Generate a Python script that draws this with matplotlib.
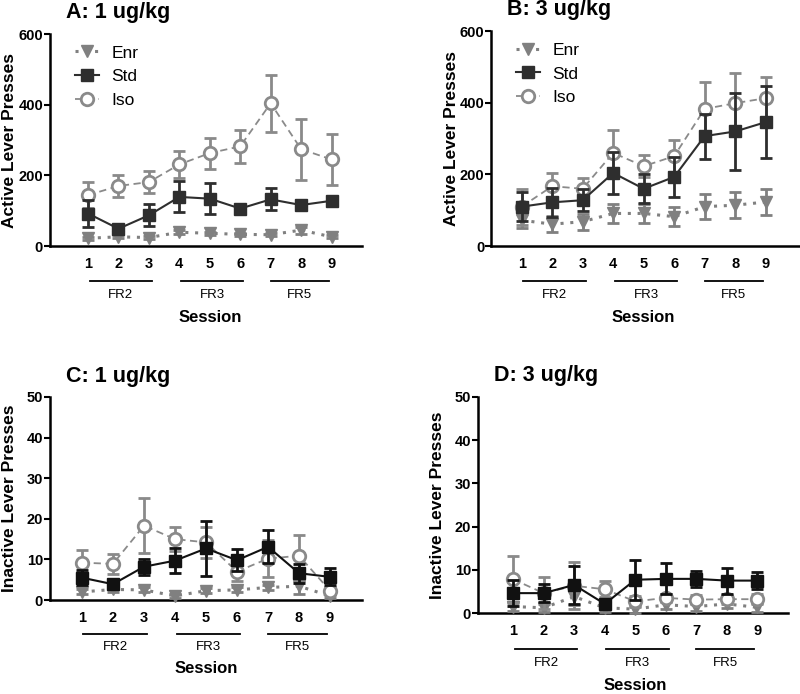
import matplotlib
matplotlib.use("Agg")
from matplotlib import pyplot as plt
import matplotlib.transforms as mtransforms

# Data
sessions = [1, 2, 3, 4, 5, 6, 7, 8, 9]
session_labels = ['1', '2', '3', '4', '5', '6', '7', '8', '9']
schedules = ['FR2', 'FR3', 'FR5']
schedule_spans = [(1.05, 3.1), (4.05, 6.1), (7.0, 8.9)]

# A: active lever, 1 ug/kg
a_enr = [22, 26, 24, 39, 36, 33, 32, 45, 26]
a_enr_sem = [4, 4, 4, 5, 4, 4, 4, 10, 4]
a_std = [92, 49, 87, 139, 134, 106, 132, 116, 128]
a_std_sem = [38, 6, 31, 44, 43, 6, 31, 12, 6]
a_iso = [144, 170, 181, 231, 263, 282, 404, 274, 245]
a_iso_sem = [37, 30, 31, 38, 44, 47, 81, 86, 73]

# B: active lever, 3 ug/kg
b_enr = [72, 61, 68, 91, 91, 82, 110, 114, 123]
b_enr_sem = [22, 22, 22, 27, 27, 27, 35, 36, 36]
b_std = [110, 122, 128, 204, 160, 193, 307, 320, 346]
b_std_sem = [40, 40, 30, 60, 40, 56, 63, 108, 100]
b_iso = [110, 167, 160, 260, 223, 251, 383, 399, 413]
b_iso_sem = [50, 37, 30, 65, 30, 44, 76, 84, 59]

# C: inactive lever, 1 ug/kg
c_enr = [2.0, 2.6, 2.5, 1.0, 2.3, 2.5, 3.1, 3.4, 1.0]
c_enr_sem = [0.6, 0.6, 0.6, 0.4, 0.6, 0.6, 0.6, 2.0, 0.4]
c_std = [5.5, 3.9, 8.2, 9.7, 12.7, 9.8, 13.1, 6.6, 5.7]
c_std_sem = [1.9, 1.0, 2.0, 3.1, 6.7, 2.7, 4.1, 2.3, 2.1]
c_iso = [9.2, 8.9, 18.3, 15.0, 14.2, 7.0, 10.2, 10.9, 2.3]
c_iso_sem = [3.0, 2.5, 6.8, 3.0, 3.8, 2.2, 4.5, 5.0, 1.0]

# D: inactive lever, 3 ug/kg
d_enr = [1.5, 1.2, 3.8, 1.2, 0.9, 1.9, 1.5, 2.1, 1.3]
d_enr_sem = [1.0, 1.0, 2.0, 1.0, 0.8, 1.0, 1.0, 1.0, 1.0]
d_std = [4.6, 4.6, 6.5, 2.1, 7.7, 7.9, 7.9, 7.5, 7.5]
d_std_sem = [3.0, 2.0, 4.4, 1.0, 4.6, 3.6, 1.9, 3.0, 1.9]
d_iso = [7.8, 4.6, 6.3, 5.5, 2.7, 3.5, 3.1, 3.2, 3.2]
d_iso_sem = [5.4, 3.7, 5.4, 1.8, 1.2, 1.0, 1.0, 1.0, 1.2]

plt.rcParams["font.family"] = ['Liberation Sans', 'DejaVu Sans']
plt.rcParams["font.size"] = 10

fig = plt.figure(figsize=(8, 6.94), dpi=100)

panels = [
    dict(rect=[0.0625, 0.6455, 0.39, 0.3055], title='A: 1 ug/kg', ylabel='Active Lever Presses',
         enr=(a_enr, a_enr_sem), std=(a_std, a_std_sem), iso=(a_iso, a_iso_sem),
         ylim=(0, 600), yticks=[0, 200, 400, 600], xlim=(-0.25, 10.0), legend=True, std_color='#2e2e2e'),
    dict(rect=[0.614, 0.6455, 0.385, 0.3095], title='B: 3 ug/kg', ylabel='Active Lever Presses',
         enr=(b_enr, b_enr_sem), std=(b_std, b_std_sem), iso=(b_iso, b_iso_sem),
         ylim=(0, 600), yticks=[0, 200, 400, 600], xlim=(0.0, 10.1), legend=True, std_color='#2e2e2e'),
    dict(rect=[0.0625, 0.1354, 0.39, 0.2926], title='C: 1 ug/kg', ylabel='Inactive Lever Presses',
         enr=(c_enr, c_enr_sem), std=(c_std, c_std_sem), iso=(c_iso, c_iso_sem),
         ylim=(0, 50), yticks=[0, 10, 20, 30, 40, 50], xlim=(-0.03, 10.03), legend=False, std_color='#111111'),
    dict(rect=[0.5975, 0.1167, 0.3875, 0.3113], title='D: 3 ug/kg', ylabel='Inactive Lever Presses',
         enr=(d_enr, d_enr_sem), std=(d_std, d_std_sem), iso=(d_iso, d_iso_sem),
         ylim=(0, 50), yticks=[0, 10, 20, 30, 40, 50], xlim=(-0.15, 10.0), legend=False, std_color='#111111'),
]

for p in panels:
    ax = fig.add_axes(p['rect'])

    enr = ax.errorbar(sessions, p['enr'][0], yerr=p['enr'][1], color='#808080', linestyle=(0, (1, 2.2)),
                      linewidth=2.2, marker='v', markersize=9, elinewidth=2, capsize=4.5, capthick=2,
                      zorder=3, clip_on=False)
    iso = ax.errorbar(sessions, p['iso'][0], yerr=p['iso'][1], color='#8a8a8a', linestyle='--',
                      dashes=(4, 2.5), linewidth=1.3, marker='o', markersize=9, markerfacecolor='white',
                      markeredgewidth=2, elinewidth=2, capsize=4.5, capthick=2, zorder=4,
                      clip_on=False)
    std = ax.errorbar(sessions, p['std'][0], yerr=p['std'][1], color=p['std_color'], linestyle='-',
                      linewidth=1.5, marker='s', markersize=8, elinewidth=2, capsize=4.5, capthick=2,
                      zorder=5, clip_on=False)

    ax.set_xlim(*p['xlim'])
    ax.set_ylim(*p['ylim'])
    ax.set_yticks(p['yticks'])
    ax.set_xticks(sessions)
    ax.set_xticklabels(session_labels)
    for lab in ax.get_xticklabels() + ax.get_yticklabels():
        lab.set_fontweight('bold')
        lab.set_fontsize(10.5)
    ax.tick_params(axis='x', length=0, pad=8)
    ax.tick_params(axis='y', length=4, width=1.5, pad=1)

    for side in ['top', 'right']:
        ax.spines[side].set_visible(False)
    for side in ['left', 'bottom']:
        ax.spines[side].set_linewidth(1.8)

    ax.set_ylabel(p['ylabel'], fontweight='bold', fontsize=12.5)
    ax.yaxis.set_label_coords(-0.105, 0.5)

    # schedule bars under the session ticks
    trans = mtransforms.blended_transform_factory(ax.transData, ax.transAxes)
    for name, (x0, x1) in zip(schedules, schedule_spans):
        ax.plot([x0, x1], [-0.165, -0.165], color='black', linewidth=1.3, transform=trans, clip_on=False)
        ax.text((x0 + x1) / 2, -0.23, name, transform=trans, ha='center', va='center', fontsize=9.5)
    ax.text(5.0, -0.335, 'Session', transform=trans, ha='center', va='center',
            fontsize=12, fontweight='bold')

    ax.text(0.05, 1.05, p['title'], transform=ax.transAxes, ha='left', va='bottom',
            fontsize=15.5, fontweight='bold')

    if p['legend']:
        ax.legend([enr[0], std[0], iso[0]], ['Enr', 'Std', 'Iso'], loc='upper left',
                  bbox_to_anchor=(0.03, 1.02), frameon=False, fontsize=12.5, handlelength=1.4,
                  handletextpad=0.7, labelspacing=0.5)

fig.savefig('out.png', dpi=100)
